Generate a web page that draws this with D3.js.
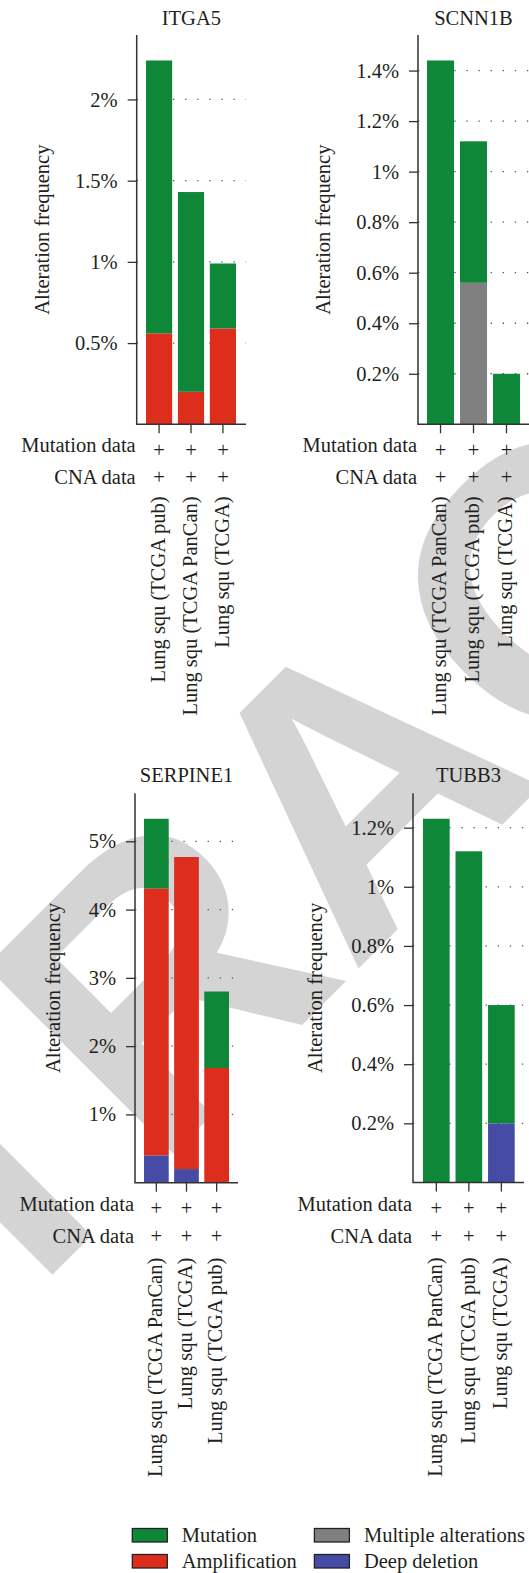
<!DOCTYPE html>
<html>
<head>
<meta charset="utf-8">
<script src="https://cdn.jsdelivr.net/npm/d3@7"></script>
<style>
  body { margin: 0; background: #fff; }
  svg { display: block; }
</style>
</head>
<body>
<div class="chart-container"></div>
<script>
// series, bottom of the stack first
const seriesKeys = ["deletion", "amplification", "multiple", "mutation"];
const seriesNames = ["Deep deletion", "Amplification", "Multiple alterations", "Mutation"];
const seriesColors = ["#464ca5", "#dc2d1d", "#808080", "#0f8739"];

const genes = ["ITGA5", "SCNN1B", "SERPINE1", "TUBB3"];

const itga5Studies = ["Lung squ (TCGA pub)", "Lung squ (TCGA PanCan)", "Lung squ (TCGA)"];
const itga5Mutation = [1.68, 1.23, 0.40];
const itga5Amplification = [0.56, 0.20, 0.59];

const scnn1bStudies = ["Lung squ (TCGA PanCan)", "Lung squ (TCGA pub)", "Lung squ (TCGA)"];
const scnn1bMutation = [1.44, 0.56, 0.20];
const scnn1bMultiple = [0, 0.56, 0];

const serpine1Studies = ["Lung squ (TCGA PanCan)", "Lung squ (TCGA)", "Lung squ (TCGA pub)"];
const serpine1Mutation = [1.02, 0, 1.12];
const serpine1Amplification = [3.91, 4.57, 1.68];
const serpine1Deletion = [0.40, 0.20, 0];

const tubb3Studies = ["Lung squ (TCGA PanCan)", "Lung squ (TCGA pub)", "Lung squ (TCGA)"];
const tubb3Mutation = [1.23, 1.12, 0.40];
const tubb3Deletion = [0, 0, 0.20];

const rowLabels = ["Mutation data", "CNA data"];
const legendOrder = ["mutation", "amplification", "multiple", "deletion"];
const watermark = "RETRACTED";

const panels = [
  {gene: genes[0], studies: itga5Studies, mutation: itga5Mutation, amplification: itga5Amplification},
  {gene: genes[1], studies: scnn1bStudies, mutation: scnn1bMutation, multiple: scnn1bMultiple},
  {gene: genes[2], studies: serpine1Studies, mutation: serpine1Mutation, amplification: serpine1Amplification, deletion: serpine1Deletion},
  {gene: genes[3], studies: tubb3Studies, mutation: tubb3Mutation, deletion: tubb3Deletion}
];

// where each panel sits on the page
const layout = [
  {x: 136.7, xEnd: 246, top: 35, base: 424.3, bars: [146, 236], titleY: 25, axisTitleX: 49, labelGap: 72},
  {x: 418, xEnd: 529, top: 35, base: 424.3, bars: [427, 520], titleY: 25, axisTitleX: 330, labelGap: 72},
  {x: 135, xEnd: 238, top: 793.3, base: 1182.7, bars: [144, 229], titleY: 782, axisTitleX: 59.5, labelGap: 75},
  {x: 413, xEnd: 524, top: 793.3, base: 1182.5, bars: [423, 514.7], titleY: 782, axisTitleX: 321.5, labelGap: 75}
];

const width = 529;
const height = 1573;
const fontSize = 20.5;
const ink = "#231f20";
const serif = "'Liberation Serif', 'DejaVu Serif', serif";

const svg = d3.select(".chart-container")
  .append("svg")
  .attr("width", width)
  .attr("height", height)
  .style("font-family", serif);

svg.append("text")
  .attr("transform", "translate(450,877) rotate(-45)")
  .attr("text-anchor", "middle")
  .style("font-family", "'Liberation Sans', Arial, sans-serif")
  .style("font-weight", "bold")
  .style("font-size", "385px")
  .attr("fill", "#d4d4d4")
  .text(watermark);

const color = d3.scaleOrdinal().domain(seriesKeys).range(seriesColors);
const pct = d => `${+d.toFixed(2)}%`;

panels.forEach((p, i) => {
  const L = layout[i];
  const rows = p.studies.map((s, j) => {
    const row = {study: s};
    seriesKeys.forEach(k => { row[k] = p[k] ? p[k][j] : 0; });
    return row;
  });
  const stacked = d3.stack().keys(seriesKeys)(rows);
  const total = d3.max(rows, r => d3.sum(seriesKeys, k => r[k]));

  const y = d3.scaleLinear().domain([0, total * 1.07]).range([L.base, L.top]);
  const x = d3.scaleBand().domain(p.studies).range(L.bars).paddingInner(0.18);
  const ticks = y.ticks(5).filter(t => t > 0);

  const g = svg.append("g");

  // dotted grid
  g.append("g")
    .selectAll("line")
    .data(ticks)
    .enter().append("line")
    .attr("x1", L.x)
    .attr("x2", L.xEnd)
    .attr("y1", d => y(d))
    .attr("y2", d => y(d))
    .attr("stroke", "#555")
    .attr("stroke-width", 1.3)
    .attr("stroke-dasharray", "1.3 10.8");

  g.append("g")
    .selectAll("g")
    .data(stacked)
    .enter().append("g")
    .attr("fill", d => color(d.key))
    .selectAll("rect")
    .data(d => d)
    .enter().append("rect")
    .attr("x", d => x(d.data.study))
    .attr("y", d => y(d[1]))
    .attr("width", x.bandwidth())
    .attr("height", d => y(d[0]) - y(d[1]));

  const yAxis = g.append("g")
    .attr("transform", `translate(${L.x},0)`)
    .call(d3.axisLeft(y).tickValues(ticks).tickSize(9).tickPadding(10).tickFormat(pct));
  yAxis.select(".domain").remove();

  const xAxis = g.append("g")
    .attr("transform", `translate(0,${L.base})`)
    .call(d3.axisBottom(x).tickSize(9).tickFormat(""));
  xAxis.select(".domain").remove();

  g.selectAll(".tick line").attr("stroke", "#333").attr("stroke-width", 1.3);
  g.selectAll(".tick text")
    .attr("fill", ink)
    .style("font-family", serif)
    .style("font-size", fontSize + "px");

  g.append("path")
    .attr("d", `M${L.x},${L.top}V${L.base}H${L.xEnd}`)
    .attr("fill", "none")
    .attr("stroke", "#333")
    .attr("stroke-width", 1.5);

  g.append("text")
    .attr("x", (L.x + L.xEnd) / 2)
    .attr("y", L.titleY)
    .attr("text-anchor", "middle")
    .attr("fill", ink)
    .style("font-size", fontSize + "px")
    .text(p.gene);

  g.append("text")
    .attr("transform", `translate(${L.axisTitleX},${(L.top + L.base) / 2}) rotate(-90)`)
    .attr("text-anchor", "middle")
    .attr("fill", ink)
    .style("font-size", fontSize + "px")
    .text("Alteration frequency");

  // mutation / CNA rows
  g.append("g")
    .selectAll("text")
    .data(rowLabels)
    .enter().append("text")
    .attr("x", L.x - 1)
    .attr("y", (d, k) => L.base + 28 + k * 32)
    .attr("text-anchor", "end")
    .attr("fill", ink)
    .style("font-size", fontSize + "px")
    .text(d => d);

  rowLabels.forEach((r, k) => {
    g.append("g")
      .selectAll("text")
      .data(p.studies)
      .enter().append("text")
      .attr("x", d => x(d) + x.bandwidth() / 2)
      .attr("y", L.base + 32.5 + k * 27.5)
      .attr("text-anchor", "middle")
      .attr("fill", ink)
      .style("font-size", fontSize + "px")
      .text("+");
  });

  g.append("g")
    .selectAll("text")
    .data(p.studies)
    .enter().append("text")
    .attr("transform", d => `translate(${x(d) + x.bandwidth() / 2},${L.base + L.labelGap}) rotate(-90)`)
    .attr("dy", "0.28em")
    .attr("text-anchor", "end")
    .attr("fill", ink)
    .style("font-size", fontSize + "px")
    .text(d => d);
});

// legend, two columns
const legend = svg.append("g")
  .selectAll("g")
  .data(legendOrder)
  .enter().append("g")
  .attr("transform", (d, k) => `translate(${k < 2 ? 132.3 : 314.4},${k % 2 ? 1554.5 : 1528.5})`);

legend.append("rect")
  .attr("width", 35)
  .attr("height", 13.5)
  .attr("fill", d => color(d))
  .attr("stroke", "#222")
  .attr("stroke-width", 1.3);

legend.append("text")
  .attr("x", 49.5)
  .attr("y", 13.8)
  .attr("fill", ink)
  .style("font-size", fontSize + "px")
  .text(d => seriesNames[seriesKeys.indexOf(d)]);
</script>
</body>
</html>
